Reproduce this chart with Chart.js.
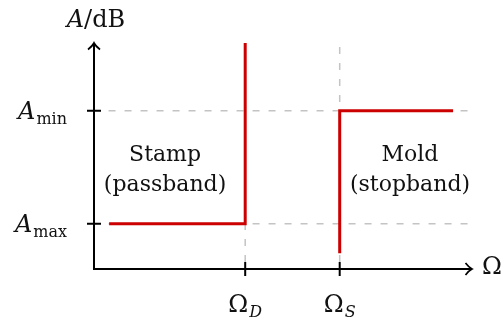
<!DOCTYPE html>
<html>
<head>
<meta charset="utf-8">
<script src="https://cdn.jsdelivr.net/npm/chart.js@4/dist/chart.umd.min.js"></script>
<style>
  html, body { margin: 0; padding: 0; background: #ffffff; }
  #wrap { width: 501px; height: 325px; }
</style>
</head>
<body>
<div id="wrap"><canvas id="c" width="501" height="325"></canvas></div>
<script>
// ---- data (abstract units on both axes) ----
const xTickValues = [4, 6.5];
const xTickMain = ['Ω', 'Ω'];
const xTickSub = ['D', 'S'];
const yTickValues = [7, 2];
const yTickMain = ['A', 'A'];
const yTickSub = ['min', 'max'];
const xAxisTitle = 'Ω';
const yAxisTitle = ['A', '/dB'];

// stamp (passband) limit: A_max up to Ω_D, then vertical
const stampX = [0.4, 4, 4];
const stampY = [2, 2, 10];
// mold (stopband) limit: vertical at Ω_S, then A_min
const moldX = [6.5, 6.5, 9.5];
const moldY = [0.7, 7, 7];

// dashed guides
const guideAminX = [0.2, 9.9];
const guideAminY = [7, 7];
const guideAmaxX = [0.2, 9.9];
const guideAmaxY = [2, 2];
const guideODX = [4, 4];
const guideODY = [0, 2];
const guideOSX = [6.5, 6.5];
const guideOSY = [0, 10];

const regionText = [['Stamp', '(passband)'], ['Mold', '(stopband)']];

const pts = (xs, ys) => xs.map((x, i) => ({ x: x, y: ys[i] }));

const RED = '#cc0000';
const GUIDE = '#c4c4c4';
const FONT = '"DejaVu Serif", "Liberation Serif", serif';

function guide(xs, ys) {
  return {
    data: pts(xs, ys), showLine: true, borderColor: GUIDE, borderWidth: 1.5,
    borderDash: [7, 9], borderDashOffset: 9, pointRadius: 0, order: 2,
    borderCapStyle: 'butt'
  };
}
function limit(xs, ys) {
  return {
    data: pts(xs, ys), showLine: true, borderColor: RED, borderWidth: 3,
    pointRadius: 0, order: 0, borderCapStyle: 'butt', borderJoinStyle: 'miter',
    tension: 0
  };
}

function drawSub(ctx, main, sub, x, y, align, mainItalic, subItalic) {
  const mainFont = (mainItalic ? 'italic ' : '') + '24px ' + FONT;
  const subFont = (subItalic ? 'italic ' : '') + '16px ' + FONT;
  ctx.font = mainFont;
  const wm = ctx.measureText(main).width;
  ctx.font = subFont;
  const ws = ctx.measureText(sub).width;
  const total = wm + ws + 1;
  let x0 = x;
  if (align === 'center') x0 = x - total / 2;
  else if (align === 'right') x0 = x - total;
  ctx.textAlign = 'left';
  ctx.textBaseline = 'alphabetic';
  ctx.font = mainFont;
  ctx.fillText(main, x0, y);
  ctx.font = subFont;
  ctx.fillText(sub, x0 + wm + 1, y + 5);
}

const decor = {
  id: 'decor',
  afterDatasetsDraw(chart) {
    const ctx = chart.ctx;
    const xs = chart.scales.x, ys = chart.scales.y;
    const x0 = xs.getPixelForValue(0), x1 = xs.getPixelForValue(10);
    const y0 = ys.getPixelForValue(0), y1 = ys.getPixelForValue(10);
    ctx.save();
    ctx.strokeStyle = '#000';
    ctx.fillStyle = '#000';
    ctx.lineWidth = 2;
    ctx.lineCap = 'butt';
    // axes
    ctx.beginPath();
    ctx.moveTo(x0 - 1, y0); ctx.lineTo(x1 - 1, y0);
    ctx.moveTo(x0, y0 + 1); ctx.lineTo(x0, y1 + 1);
    ctx.stroke();
    // arrow heads (open chevrons)
    ctx.lineWidth = 1.7;
    ctx.lineJoin = 'miter';
    ctx.beginPath();
    ctx.moveTo(x1 - 6.5, y0 - 6);
    ctx.quadraticCurveTo(x1 - 3, y0 - 1.5, x1, y0);
    ctx.quadraticCurveTo(x1 - 3, y0 + 1.5, x1 - 6.5, y0 + 6);
    ctx.moveTo(x0 - 6, y1 + 6.5);
    ctx.quadraticCurveTo(x0 - 1.5, y1 + 3, x0, y1);
    ctx.quadraticCurveTo(x0 + 1.5, y1 + 3, x0 + 6, y1 + 6.5);
    ctx.stroke();
    // ticks
    ctx.lineWidth = 2;
    ctx.beginPath();
    xTickValues.forEach(v => {
      const px = xs.getPixelForValue(v);
      ctx.moveTo(px, y0 - 7); ctx.lineTo(px, y0 + 7);
    });
    yTickValues.forEach(v => {
      const py = ys.getPixelForValue(v);
      ctx.moveTo(x0 - 7, py); ctx.lineTo(x0 + 7, py);
    });
    ctx.stroke();
    // tick labels
    ctx.fillStyle = '#111';
    xTickValues.forEach((v, i) => {
      drawSub(ctx, xTickMain[i], xTickSub[i], xs.getPixelForValue(v), y0 + 43, 'center', false, true);
    });
    yTickValues.forEach((v, i) => {
      drawSub(ctx, yTickMain[i], yTickSub[i], x0 - 27, ys.getPixelForValue(v) + 8, 'right', true, false);
    });
    // axis titles
    ctx.textBaseline = 'alphabetic';
    ctx.textAlign = 'left';
    ctx.font = '24px ' + FONT;
    ctx.fillText(xAxisTitle, x1 + 10, y0 + 5);
    ctx.font = 'italic 24px ' + FONT;
    const wa = ctx.measureText(yAxisTitle[0]).width;
    ctx.font = '24px ' + FONT;
    const wb = ctx.measureText(yAxisTitle[1]).width;
    const tx = x0 + 2 - (wa + wb) / 2;
    ctx.font = 'italic 24px ' + FONT;
    ctx.fillText(yAxisTitle[0], tx, 27);
    ctx.font = '24px ' + FONT;
    ctx.fillText(yAxisTitle[1], tx + wa, 27);
    // region text
    ctx.textAlign = 'center';
    ctx.font = '22px ' + FONT;
    const anchors = [[1.88, 4.8], [8.36, 4.8]];
    regionText.forEach((lines, i) => {
      const cx = xs.getPixelForValue(anchors[i][0]);
      const cy = ys.getPixelForValue(anchors[i][1]);
      lines.forEach((t, j) => ctx.fillText(t, cx, cy + j * 30));
    });
    ctx.restore();
  }
};

new Chart(document.getElementById('c'), {
  type: 'scatter',
  data: {
    datasets: [
      limit(stampX, stampY),
      limit(moldX, moldY),
      guide(guideAminX, guideAminY),
      guide(guideAmaxX, guideAmaxY),
      guide(guideODX, guideODY),
      guide(guideOSX, guideOSY)
    ]
  },
  options: {
    responsive: false,
    devicePixelRatio: 1,
    animation: false,
    layout: { padding: { left: 94, right: 29, top: 43, bottom: 56 } },
    plugins: { legend: { display: false }, tooltip: { enabled: false } },
    scales: {
      x: { type: 'linear', min: 0, max: 10, display: false },
      y: { type: 'linear', min: 0, max: 10, display: false }
    }
  },
  plugins: [decor]
});
</script>
</body>
</html>
